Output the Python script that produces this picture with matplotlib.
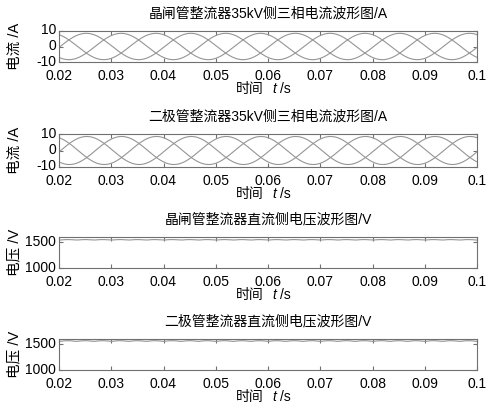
import numpy as np
import matplotlib
matplotlib.use("Agg")
import matplotlib.pyplot as plt
import matplotlib.transforms as mtransforms

plt.rcParams['font.family'] = ['Liberation Sans', 'Noto Sans CJK SC']
plt.rcParams['axes.unicode_minus'] = False

# panel titles and axis text
titles = ["晶闸管整流器35kV侧三相电流波形图/A",
          "二极管整流器35kV侧三相电流波形图/A",
          "晶闸管整流器直流侧电压波形图/V",
          "二极管整流器直流侧电压波形图/V"]
ylabels = ["电流 /A", "电流 /A", "电压 /V", "电压 /V"]
xlabel_parts = ["时间", "t", "/s"]

# time axis
t_start, t_end = 0.02, 0.1
xticks = [0.02, 0.03, 0.04, 0.05, 0.06, 0.07, 0.08, 0.09, 0.1]
xticklabels = ["0.02", "0.03", "0.04", "0.05", "0.06", "0.07", "0.08", "0.09", "0.1"]

# AC side: three phase currents, 50 Hz
f_grid = 50.0
i_amp = [8.5, 8.5]            # thyristor, diode
i_phase = [-0.07, -0.1]       # rad, phase A at t=0
phase_shift = [0.0, -2 * np.pi / 3, 2 * np.pi / 3]
i_ylim = (-10, 10)
i_yticks = [-10, 0, 10]

# DC side: mean voltage with 6-pulse ripple
u_mean = [1545, 1560]
u_ripple = [10, 14]
f_ripple = 300.0
u_ylim = (1000, 1600)
u_yticks = [1000, 1500]

# axes boxes in pixels (left, top, right, bottom) on a 491x409 canvas
W, H = 491, 409
boxes = [(59, 31, 477, 62), (59, 134, 477, 167),
         (59, 237, 477, 268), (59, 339, 477, 370)]

line_col = "#959595"
box_col = "#707070"

fig = plt.figure(figsize=(W / 100, H / 100), dpi=100)
t = np.linspace(t_start, t_end, 4000)
lift = mtransforms.ScaledTranslation(0, 2 / 100, fig.dpi_scale_trans)

for k, (l, tp, r, b) in enumerate(boxes):
    ax = fig.add_axes([l / W, 1 - b / H, (r - l) / W, (b - tp) / H])
    if k < 2:
        for ph in phase_shift:
            ax.plot(t, i_amp[k] * np.sin(2 * np.pi * f_grid * t + i_phase[k] + ph),
                    color=line_col, lw=0.8)
        ax.set_ylim(*i_ylim)
        ax.set_yticks(i_yticks)
    else:
        j = k - 2
        u = u_mean[j] + u_ripple[j] * np.abs(np.sin(np.pi * f_ripple * t))
        ax.plot(t, u - u_ripple[j] / 2, color=line_col, lw=0.8)
        ax.set_ylim(*u_ylim)
        ax.set_yticks(u_yticks)
    ax.set_xlim(t_start, t_end)
    ax.set_xticks(xticks)
    ax.set_xticklabels(xticklabels)
    ax.tick_params(direction='in', top=True, right=True, length=3,
                   color=box_col, labelsize=10)
    ax.tick_params(axis='x', pad=5)
    ax.tick_params(axis='y', pad=2)
    # nudge y tick labels up a little so the lowest one clears the x labels
    for lab in ax.get_yticklabels():
        lab.set_transform(lab.get_transform() + lift)
    for s in ax.spines.values():
        s.set_color(box_col)
        s.set_linewidth(0.8)
    ax.set_title(titles[k], fontsize=10, pad=9.5)
    ax.set_ylabel(ylabels[k], fontsize=10.5)
    ax.yaxis.set_label_coords(-0.09, 0.5)

    # x label: 时间 t /s with italic t
    kw = dict(xy=(0.5, 0), xycoords='axes fraction', textcoords='offset pixels',
              va='center', fontsize=10)
    ax.annotate(xlabel_parts[0], xytext=(-4, -27), ha='right', **kw)
    ax.annotate(xlabel_parts[1], xytext=(6, -27), ha='center', style='italic', **kw)
    ax.annotate(xlabel_parts[2], xytext=(12, -27), ha='left', **kw)

fig.savefig("out.png", dpi=100)
